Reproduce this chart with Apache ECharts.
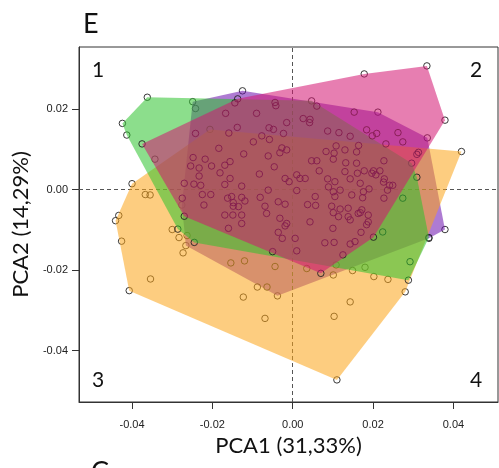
<!DOCTYPE html>
<html>
<head>
<meta charset="utf-8">
<script src="https://cdn.jsdelivr.net/npm/echarts@6/dist/echarts.min.js"></script>
<style>
  html, body { margin: 0; padding: 0; background: #ffffff; }
  #chart { width: 499px; height: 468px; }
</style>
</head>
<body>
<div id="chart"></div>
<script>
// PCA scores per group: [PCA1, PCA2]
const groupPurple = [
  [-0.0249, 0.0219], [-0.0125, 0.0246], [0.0212, 0.0193], [0.0335, 0.0129],
  [0.0379, -0.0099], [0.0339, -0.0121], [-0.0038, -0.0264], [-0.0266, -0.0139],
  [-0.0276, -0.0038], [-0.0242, 0.0202]
];

const groupOrange = [
  [0.0420, 0.0095], [0.0280, -0.0254], [0.0110, -0.0473], [-0.0407, -0.0251],
  [-0.0426, -0.0128], [-0.0441, -0.0077], [-0.0433, -0.0064], [-0.0400, 0.0015],
  [-0.0206, 0.0150],
  [-0.0367, -0.0012], [-0.0355, -0.0013], [-0.0354, -0.0222], [-0.0300, -0.0099],
  [-0.0283, -0.0119], [-0.0263, -0.0114], [-0.0273, -0.0157], [-0.0123, -0.0267],
  [-0.0069, -0.0320], [0.0103, -0.0315], [0.0143, -0.0279], [-0.0088, -0.0242],
  [-0.0064, -0.0242], [-0.0154, -0.0182], [-0.0120, -0.0177], [-0.0044, -0.0191],
  [0.0035, -0.0196], [0.0101, -0.0212], [0.0149, -0.0201], [0.0180, -0.0193],
  [0.0202, -0.0216], [0.0237, -0.0223], [0.0108, -0.0187]
];

const groupGreen = [
  [-0.0362, 0.0230], [-0.0424, 0.0165], [-0.0413, 0.0136], [-0.0286, -0.0098],
  [-0.0245, -0.0131], [0.0288, -0.0225], [0.0339, -0.0119], [0.0309, 0.0031],
  [0.0296, 0.0066], [0.0047, 0.0221],
  [-0.0343, 0.0076], [0.0292, -0.0179], [0.0274, -0.0021], [0.0224, -0.0105]
];

const groupPink = [
  [-0.0375, 0.0114], [-0.0137, 0.0226], [0.0178, 0.0288], [0.0334, 0.0308],
  [0.0379, 0.0173], [0.0201, -0.0118], [0.0070, -0.0208], [-0.0270, -0.0066],
  [-0.0144, 0.0216], [-0.0167, 0.0190], [-0.0090, 0.0190], [-0.0044, 0.0217],
  [-0.0042, 0.0209], [0.0060, 0.0208], [0.0153, 0.0193], [-0.0015, 0.0167],
  [0.0026, 0.0177], [0.0043, 0.0175], [0.0042, 0.0167], [-0.0138, 0.0155],
  [-0.0159, 0.0141], [-0.0059, 0.0154], [-0.0048, 0.0150], [-0.0023, 0.0140],
  [0.0087, 0.0146], [0.0115, 0.0142], [0.0143, 0.0133], [0.0184, 0.0149],
  [0.0198, 0.0134], [0.0209, 0.0140], [0.0262, 0.0142], [0.0274, 0.0119],
  [0.0232, 0.0114], [-0.0077, 0.0134], [-0.0098, 0.0119], [-0.0058, 0.0125],
  [-0.0184, 0.0103], [-0.0027, 0.0104], [-0.0015, 0.0099], [0.0108, 0.0109],
  [0.0083, 0.0095], [0.0103, 0.0091], [-0.0122, 0.0089], [-0.0061, 0.0084],
  [-0.0032, 0.0092], [0.0047, 0.0072], [0.0060, 0.0072], [0.0101, 0.0076],
  [0.0132, 0.0067], [-0.0156, 0.0070], [-0.0169, 0.0061], [-0.0046, 0.0057],
  [0.0066, 0.0047], [0.0130, 0.0045], [-0.0083, 0.0039], [-0.0019, 0.0028],
  [0.0010, 0.0037], [0.0018, 0.0028], [0.0031, 0.0028], [-0.0009, 0.0020],
  [0.0087, 0.0027], [0.0105, 0.0020], [0.0143, 0.0027], [-0.0156, 0.0028],
  [-0.0169, 0.0013], [-0.0127, 0.0009], [-0.0061, -0.0001], [0.0010, -0.0002],
  [0.0089, 0.0007], [0.0101, -0.0005], [0.0105, -0.0017], [-0.0152, -0.0017],
  [-0.0127, -0.0019], [-0.0081, -0.0019], [0.0056, -0.0017], [0.0164, 0.0110],
  [0.0159, 0.0094], [0.0130, 0.0099], [0.0159, 0.0066], [0.0178, 0.0047],
  [0.0201, 0.0047], [0.0217, 0.0047], [0.0228, 0.0027], [0.0226, 0.0019],
  [0.0241, 0.0011], [0.0249, 0.0011], [0.0236, -0.0001], [0.0190, 0.0002],
  [0.0168, 0.0016], [0.0118, -0.0001], [0.0147, -0.0013], [0.0174, -0.0020],
  [0.0227, -0.0021], [0.0227, 0.0072], [0.0309, 0.0088], [0.0313, 0.0093],
  [0.0207, 0.0037], [0.0197, 0.0041], [0.0161, 0.0041], [0.0176, -0.0005],
  [-0.0218, 0.0076], [-0.0233, 0.0054], [-0.0202, 0.0059], [-0.0181, 0.0042],
  [-0.0233, 0.0034], [-0.0246, 0.0014], [-0.0229, 0.0011], [-0.0225, -0.0012],
  [-0.0204, -0.0012], [-0.0162, -0.0021], [-0.0148, -0.0032], [-0.0148, -0.0041],
  [-0.0135, -0.0042], [-0.0221, -0.0038], [-0.0119, -0.0028], [-0.0069, -0.0041],
  [-0.0036, -0.0030], [-0.0169, -0.0063], [-0.0149, -0.0063], [-0.0127, -0.0063],
  [-0.0065, -0.0059], [-0.0019, -0.0036], [0.0097, -0.0041], [0.0118, -0.0048],
  [0.0138, -0.0046], [-0.0032, -0.0071], [0.0043, -0.0080], [0.0101, -0.0057],
  [0.0114, -0.0067], [0.0138, -0.0067], [-0.0127, -0.0084], [-0.0015, -0.0084],
  [0.0037, -0.0037], [0.0057, -0.0039], [0.0163, -0.0059], [0.0100, -0.0096],
  [0.0143, -0.0075], [0.0188, -0.0080], [0.0184, -0.0087], [-0.0019, -0.0090],
  [-0.0036, -0.0106], [-0.0026, -0.0121], [0.0006, -0.0121], [0.0143, -0.0135],
  [0.0170, -0.0106], [0.0080, -0.0132], [0.0103, -0.0131], [-0.0160, -0.0096],
  [0.0168, -0.0057], [0.0188, -0.0063], [0.0172, -0.0050], [0.0155, -0.0129],
  [-0.0242, 0.0140], [-0.0248, 0.0080], [-0.0254, 0.0059], [-0.0270, 0.0016],
  [-0.0275, -0.0021], [0.0125, -0.0162], [0.0010, -0.0152], [-0.0050, -0.0154]
];

const xTicks = [-0.04, -0.02, 0, 0.02, 0.04];
const yTicks = [-0.04, -0.02, 0, 0.02];
const xTitle = 'PCA1 (31,33%)';
const yTitle = 'PCA2 (14,29%)';
const panelLabel = 'E';
const nextPanelLabel = 'C';
const quadrantLabels = ['1', '2', '3', '4'];

// Andrew's monotone chain convex hull
function convexHull(points) {
  const p = points.slice().sort((a, b) => a[0] - b[0] || a[1] - b[1]);
  const cross = (o, a, b) => (a[0] - o[0]) * (b[1] - o[1]) - (a[1] - o[1]) * (b[0] - o[0]);
  const lower = [];
  for (const q of p) {
    while (lower.length >= 2 && cross(lower[lower.length - 2], lower[lower.length - 1], q) <= 0) lower.pop();
    lower.push(q);
  }
  const upper = [];
  for (let i = p.length - 1; i >= 0; i--) {
    const q = p[i];
    while (upper.length >= 2 && cross(upper[upper.length - 2], upper[upper.length - 1], q) <= 0) upper.pop();
    upper.push(q);
  }
  upper.pop();
  lower.pop();
  return lower.concat(upper);
}

function hullSeries(pts, fill, z) {
  const hull = convexHull(pts);
  return {
    type: 'custom',
    z: z,
    silent: true,
    animation: false,
    data: [hull[0]],
    renderItem: (params, api) => ({
      type: 'polygon',
      shape: { points: hull.map(p => api.coord(p)) },
      style: { fill: fill, stroke: null }
    })
  };
}

function pointSeries(pts, z) {
  return {
    type: 'scatter',
    z: z,
    silent: true,
    animation: false,
    data: pts,
    symbol: 'circle',
    symbolSize: 6.5,
    itemStyle: { color: 'rgba(0,0,0,0)', borderColor: '#222', borderWidth: 0.9, opacity: 1 }
  };
}

const textFont = 'Lato, "Open Sans", sans-serif';
const tickFont = '"Liberation Sans", Arial, sans-serif';

const chart = echarts.init(document.getElementById('chart'), null, { renderer: 'canvas' });

chart.setOption({
  backgroundColor: '#ffffff',
  animation: false,
  title: {
    text: panelLabel,
    left: 78,
    top: 6,
    textStyle: { fontSize: 27, fontWeight: 'normal', fontFamily: textFont, color: '#111' }
  },
  grid: {
    left: 79, right: 1, top: 47, bottom: 66,
    show: true, borderColor: '#333', borderWidth: 1
  },
  xAxis: {
    type: 'value',
    min: -0.0532, max: 0.0511,
    axisLine: { show: true, onZero: false, lineStyle: { color: '#333' } },
    axisTick: { show: true, length: 7, customValues: xTicks, lineStyle: { color: '#333' } },
    axisLabel: {
      customValues: xTicks, formatter: v => v.toFixed(2),
      fontSize: 11, color: '#222', fontFamily: tickFont, margin: 17
    },
    splitLine: { show: false },
    name: xTitle, nameLocation: 'middle', nameGap: 31,
    nameTextStyle: { fontSize: 22, color: '#111', fontFamily: textFont }
  },
  yAxis: {
    type: 'value',
    min: -0.0528, max: 0.0355,
    axisLine: { show: true, onZero: false, lineStyle: { color: '#333' } },
    axisTick: { show: true, length: 7, customValues: yTicks, lineStyle: { color: '#333' } },
    axisLabel: {
      customValues: yTicks, formatter: v => v.toFixed(2),
      fontSize: 11, color: '#222', fontFamily: tickFont, margin: 11
    },
    splitLine: { show: false },
    name: yTitle, nameLocation: 'middle', nameGap: 45, nameRotate: 90,
    nameTextStyle: { fontSize: 22, color: '#111', fontFamily: textFont }
  },
  graphic: [
    { type: 'text', left: 92, top: 60, style: { text: quadrantLabels[0], fontSize: 21, fontFamily: textFont, fill: '#111' } },
    { type: 'text', left: 470, top: 60, style: { text: quadrantLabels[1], fontSize: 21, fontFamily: textFont, fill: '#111' } },
    { type: 'text', left: 92, top: 370, style: { text: quadrantLabels[2], fontSize: 21, fontFamily: textFont, fill: '#111' } },
    { type: 'text', left: 470, top: 370, style: { text: quadrantLabels[3], fontSize: 21, fontFamily: textFont, fill: '#111' } },
    { type: 'text', left: 91, top: 459, style: { text: nextPanelLabel, fontSize: 27, fontFamily: textFont, fill: '#111' } }
  ],
  series: [
    pointSeries(groupPurple, 2),
    hullSeries(groupPurple, 'rgba(108,15,173,0.55)', 3),
    pointSeries(groupOrange, 4),
    hullSeries(groupOrange, 'rgba(251,164,24,0.55)', 5),
    pointSeries(groupGreen, 6),
    hullSeries(groupGreen, 'rgba(46,195,46,0.55)', 7),
    {
      type: 'line',
      z: 8,
      silent: true,
      data: [],
      markLine: {
        silent: true,
        symbol: 'none',
        animation: false,
        label: { show: false },
        lineStyle: { type: [4, 3], color: '#555', width: 1 },
        data: [{ xAxis: 0 }, { yAxis: 0 }]
      }
    },
    pointSeries(groupPink, 9),
    hullSeries(groupPink, 'rgba(211,20,113,0.55)', 10)
  ]
});
</script>
</body>
</html>
